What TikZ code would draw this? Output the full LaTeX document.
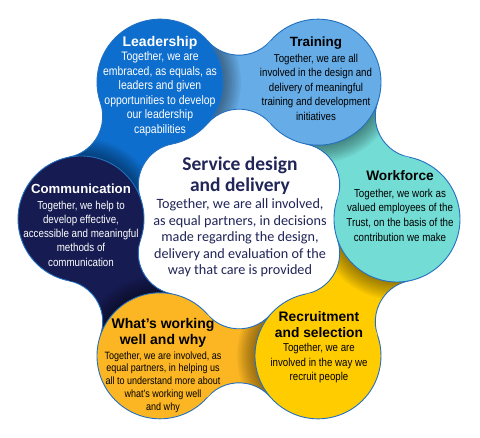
\documentclass[tikz,border=0pt]{standalone}
\usepackage{fontspec}
\setmainfont{Liberation Sans}
\newfontfamily\hdfont{Liberation Sans}
\newfontfamily\narfont[FakeStretch=0.85]{Liberation Sans}
\newfontfamily\calfont{Carlito}
\definecolor{cL}{RGB}{14,110,205}
\definecolor{cT}{RGB}{102,172,230}
\definecolor{cW}{RGB}{115,220,212}
\definecolor{cR}{RGB}{255,204,0}
\definecolor{cH}{RGB}{252,182,35}
\definecolor{cC}{RGB}{22,28,82}
\definecolor{lineblue}{RGB}{35,112,192}
\definecolor{navytext}{RGB}{33,37,88}
\tikzset{
  outline/.style={draw=lineblue, line width=0.9pt},
  bridgepath/.style={insert path={(178.16,-31.46) arc[start angle=229, end angle=131, radius=41.68] -- (95.50,31.46) arc[start angle=49, end angle=-49, radius=41.68] -- cycle}},
  ttl/.style={font=\hdfont\bfseries\fontsize{14}{16}\selectfont, align=center, inner sep=0pt},
  bdy/.style={align=center, inner sep=0pt},
}
\begin{document}
\begin{tikzpicture}[x=1pt,y=1pt]
\useasboundingbox (0,0) rectangle (480,438);
\fill[white] (0,0) rectangle (480,438);
\begin{scope}[shift={(239,219)}]
  % bridges
  \foreach \ph/\col in {150/cL, 90/cT, 30/cW, -30/cR, -90/cH, 210/cC}{
    \begin{scope}[rotate=\ph]
      \path[fill=\col, bridgepath];
      \begin{scope}
        \clip[bridgepath];
        \foreach \k in {1,...,10}{
          \fill[black, opacity=0.045] (136.83,79) circle ({63+1.8*\k});
        }
      \end{scope}
      \draw[outline] (178.16,-31.46) arc[start angle=229, end angle=131, radius=41.68];
      \draw[outline] (95.50,31.46) arc[start angle=49, end angle=-49, radius=41.68];
    \end{scope}
  }
  % circles
  \foreach \ang/\col in {120/cL, 60/cT, 0/cW, -60/cR, -120/cH, 180/cC}{
    \fill[\col] (\ang:158) circle (63);
  }
  \foreach \ang in {120, 60, 0, -60, -120, 180}{
    \draw[outline, shift={(\ang:158)}] ({\ang+161}:63) arc[start angle={\ang+161}, end angle={\ang+439}, radius=63];
  }
\end{scope}
% centre text
\node[align=center, inner sep=0pt, text=navytext, font=\calfont\bfseries\fontsize{19.5}{21}\selectfont] (cenT) at (240,262.5) {Service design\\and delivery};
\node[bdy, text=navytext, font=\calfont\fontsize{14.2}{16.5}\selectfont] (cenB) at (240,200) {Together, we are all involved,\\as equal partners, in decisions\\made regarding the design,\\delivery and evaluation of the\\way that care is provided};
% Leadership
\node[ttl, text=white] (leadT) at (160,395) {Leadership};
\node[bdy, text=white, font=\narfont\fontsize{12.3}{14.5}\selectfont] (leadB) at (160,344) {Together, we are\\embraced, as equals, as\\leaders and given\\opportunities to develop\\our leadership\\capabilities};
% Training
\node[ttl, font=\hdfont\bfseries\fontsize{13.4}{16}\selectfont] (trT) at (316,395) {Training};
\node[bdy, font=\narfont\fontsize{11.4}{14.5}\selectfont] (trB) at (316,351) {Together, we are all\\involved in the design and\\delivery of meaningful\\training and development\\initiatives};
% Workforce
\node[ttl, font=\hdfont\bfseries\fontsize{13.7}{16}\selectfont] (wfT) at (400,262.5) {Workforce};
\node[bdy, font=\narfont\fontsize{11.5}{14.6}\selectfont] (wfB) at (400,223) {Together, we work as\\valued employees of the\\Trust, on the basis of the\\contribution we make};
% Communication
\node[ttl, text=white, font=\hdfont\bfseries\fontsize{13.2}{16}\selectfont] (coT) at (81,249) {Communication};
\node[bdy, text=white, font=\narfont\fontsize{11.5}{14.2}\selectfont] (coB) at (81,204.5) {Together, we help to\\develop effective,\\accessible and meaningful\\methods of\\communication};
% What's working
\node[ttl] (whT) at (163,105) {What’s working\\well and why};
\node[bdy, font=\narfont\fontsize{10.6}{12.8}\selectfont] (whB) at (163,56) {Together, we are involved, as\\equal partners, in helping us\\all to understand more about\\what’s working well\\and why};
% Recruitment
\node[ttl, font=\hdfont\bfseries\fontsize{13.8}{16}\selectfont] (reT) at (319,113) {Recruitment\\and selection};
\node[bdy, font=\narfont\fontsize{11.4}{14.5}\selectfont] (reB) at (319,74.5) {Together, we are\\involved in the way we\\recruit people};
\end{tikzpicture}
\end{document}
